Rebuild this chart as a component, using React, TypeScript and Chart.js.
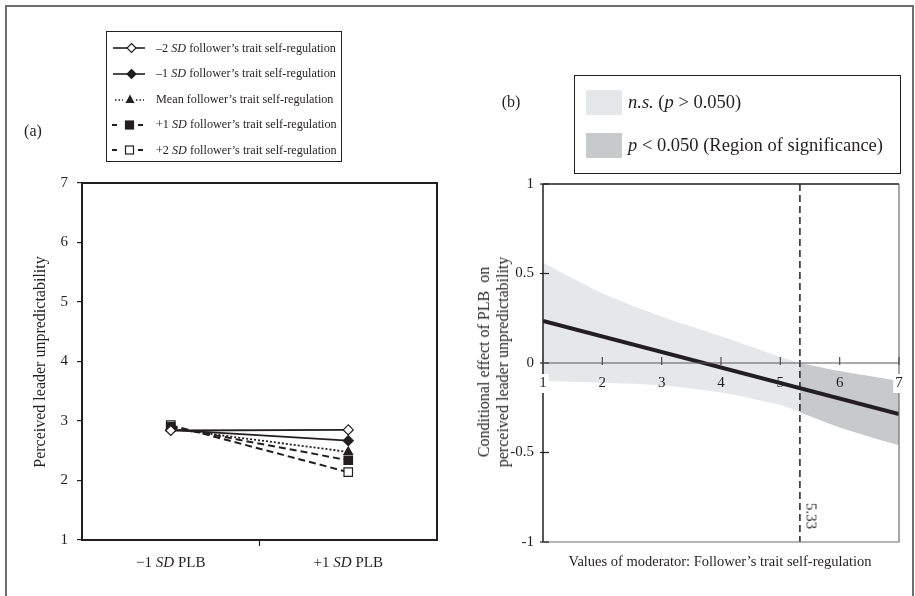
import React, { useEffect, useRef } from 'react';
import { Chart, registerables } from 'chart.js';
Chart.register(...registerables);

const SERIF = '"Liberation Serif", "Times New Roman", Times, serif';
const INK = '#231f20';

// ---------- Panel (a) data ----------
const plbCategories = ['−1 *SD* PLB', '+1 *SD* PLB'];
const seriesLabels = [
  '–2 *SD* follower’s trait self-regulation',
  '–1 *SD* follower’s trait self-regulation',
  'Mean follower’s trait self-regulation',
  '+1 *SD* follower’s trait self-regulation',
  '+2 *SD* follower’s trait self-regulation',
];
const minus2SD = [2.84, 2.85];
const minus1SD = [2.85, 2.67];
const meanSD = [2.87, 2.48];
const plus1SD = [2.9, 2.34];
const plus2SD = [2.93, 2.14];
const yTicksA = [1, 2, 3, 4, 5, 6, 7];

// ---------- Panel (b) data ----------
const moderatorValues = [1, 2, 3, 4, 5, 5.33, 6, 7];
const ciUpper = [0.56, 0.39, 0.26, 0.15, 0.035, 0.0, -0.045, -0.1];
const ciLower = [-0.1, -0.11, -0.125, -0.165, -0.235, -0.275, -0.36, -0.46];
const effectX = [1, 7];
const effectY = [0.235, -0.285];
const jnValue = 5.33;
const xTicksB = [1, 2, 3, 4, 5, 6, 7];
const xTickLabelsB = ['1', '2', '3', '4', '5', '6', '7'];
const yTicksB = [-1, -0.5, 0, 0.5, 1];
const yTickLabelsB = ['-1', '-0.5', '0', '0.5', '1'];
const bandLegend = ['*n.s.* (*p* > 0.050)', '*p* < 0.050 (Region of significance)'];
const bandColors = ['#e6e7e8', '#c8c9cb'];

const TICK_FONT = 15;

function rich(text: string) {
  return text.split('*').map((p, i) =>
    i % 2 ? <i key={i}>{p}</i> : <span key={i}>{p}</span>
  );
}

function drawRich(ctx: CanvasRenderingContext2D, text: string, cx: number, cy: number, size: number) {
  const parts = text.split('*');
  const fonts = parts.map((_, i) => `${i % 2 ? 'italic ' : ''}${size}px ${SERIF}`);
  let total = 0;
  const widths = parts.map((p, i) => {
    ctx.font = fonts[i];
    const w = ctx.measureText(p).width;
    total += w;
    return w;
  });
  let x = cx - total / 2;
  ctx.textAlign = 'left';
  ctx.textBaseline = 'middle';
  ctx.fillStyle = INK;
  parts.forEach((p, i) => {
    ctx.font = fonts[i];
    ctx.fillText(p, x, cy);
    x += widths[i];
  });
}

const panelAPlugin = {
  id: 'panelA',
  beforeDatasetsDraw(chart: any) {
    const { ctx, chartArea: a } = chart;
    ctx.save();
    ctx.strokeStyle = INK;
    ctx.lineWidth = 2;
    ctx.beginPath();
    ctx.moveTo(a.left, a.top);
    ctx.lineTo(a.right, a.top);
    ctx.lineTo(a.right, a.bottom);
    ctx.stroke();
    ctx.restore();
  },
  afterDraw(chart: any) {
    const { ctx, chartArea: a, scales } = chart;
    const xs = scales.x;
    ctx.save();
    ctx.strokeStyle = INK;
    ctx.lineWidth = 1.2;
    const mid = xs.getPixelForValue(0.5);
    ctx.beginPath();
    ctx.moveTo(mid, a.bottom);
    ctx.lineTo(mid, a.bottom + 6);
    ctx.stroke();
    plbCategories.forEach((c, i) => {
      drawRich(ctx, c, xs.getPixelForValue(i), a.bottom + 23, 15);
    });
    ctx.restore();
  },
};

// Fill each confidence band between its upper and lower edge datasets,
// using the point positions (and curve control points) computed by Chart.js.
function tracePath(ctx: CanvasRenderingContext2D, pts: any[], reverse: boolean, move: boolean) {
  const list = reverse ? [...pts].reverse() : pts;
  list.forEach((p: any, i: number) => {
    if (i === 0) {
      if (move) ctx.moveTo(p.x, p.y);
      else ctx.lineTo(p.x, p.y);
      return;
    }
    const prev = list[i - 1];
    const c1x = reverse ? prev.cp1x : prev.cp2x;
    const c1y = reverse ? prev.cp1y : prev.cp2y;
    const c2x = reverse ? p.cp2x : p.cp1x;
    const c2y = reverse ? p.cp2y : p.cp1y;
    if ([c1x, c1y, c2x, c2y].every((v) => typeof v === 'number' && isFinite(v))) {
      ctx.bezierCurveTo(c1x, c1y, c2x, c2y, p.x, p.y);
    } else {
      ctx.lineTo(p.x, p.y);
    }
  });
}

const bandPlugin = {
  id: 'bands',
  beforeDatasetsDraw(chart: any) {
    const { ctx, chartArea: a } = chart;
    ctx.save();
    ctx.beginPath();
    ctx.rect(a.left, a.top, a.right - a.left, a.bottom - a.top);
    ctx.clip();
    chart.data.datasets.forEach((ds: any, i: number) => {
      if (ds.bandRole !== 'upper') return;
      const up = chart.getDatasetMeta(i).data;
      const lo = chart.getDatasetMeta(i + 1).data;
      ctx.beginPath();
      tracePath(ctx, up, false, true);
      tracePath(ctx, lo, true, false);
      ctx.closePath();
      ctx.fillStyle = ds.bandColor;
      ctx.fill();
    });
    ctx.restore();
  },
};

const panelBPlugin = {
  id: 'panelB',
  afterDatasetsDraw(chart: any) {
    const { ctx, chartArea: a, scales } = chart;
    const xs = scales.x;
    const ys = scales.y;
    ctx.save();
    ctx.strokeStyle = INK;
    ctx.lineWidth = 1.5;
    ctx.beginPath();
    ctx.moveTo(a.left, a.top);
    ctx.lineTo(a.right, a.top);
    ctx.stroke();
    ctx.beginPath();
    ctx.moveTo(a.left, a.top);
    ctx.lineTo(a.left, a.bottom);
    ctx.stroke();
    ctx.strokeStyle = '#6d6e71';
    ctx.lineWidth = 1.2;
    ctx.beginPath();
    ctx.moveTo(a.right, a.top);
    ctx.lineTo(a.right, a.bottom);
    ctx.lineTo(a.left, a.bottom);
    ctx.stroke();
    ctx.strokeStyle = INK;
    ctx.lineWidth = 1.2;
    yTicksB.forEach((v) => {
      const y = ys.getPixelForValue(v);
      ctx.beginPath();
      ctx.moveTo(a.left - 3, y);
      ctx.lineTo(a.left + 6, y);
      ctx.stroke();
    });
    const y0 = ys.getPixelForValue(0);
    ctx.strokeStyle = '#58595b';
    ctx.lineWidth = 1.2;
    ctx.beginPath();
    ctx.moveTo(a.left, y0);
    ctx.lineTo(a.right, y0);
    ctx.stroke();
    ctx.strokeStyle = '#4d4d4f';
    xTicksB.forEach((v) => {
      const x = xs.getPixelForValue(v);
      ctx.beginPath();
      ctx.moveTo(x, y0 - 6);
      ctx.lineTo(x, y0 + 2);
      ctx.stroke();
    });
    ctx.font = `${TICK_FONT}px ${SERIF}`;
    ctx.textAlign = 'center';
    ctx.textBaseline = 'middle';
    const ly = y0 + 20;
    xTicksB.forEach((v, i) => {
      const x = xs.getPixelForValue(v);
      if (i === 0 || i === xTicksB.length - 1) {
        const w = ctx.measureText(xTickLabelsB[i]).width;
        ctx.fillStyle = '#ffffff';
        ctx.fillRect(x - w / 2 - 2, ly - 9, w + 4, 19);
      }
      ctx.fillStyle = INK;
      ctx.fillText(xTickLabelsB[i], x, ly);
    });
    ctx.restore();
  },
};

function PanelA() {
  const ref = useRef<HTMLCanvasElement>(null);
  useEffect(() => {
    const tickFont = { family: SERIF, size: TICK_FONT };
    const base = { borderColor: INK, pointBorderColor: INK, pointBorderWidth: 1.2, pointRadius: 5, tension: 0 };
    const chart = new Chart(ref.current!, {
      type: 'line',
      data: {
        labels: plbCategories.map((c) => c.replace(/\*/g, '')),
        datasets: [
          { ...base, label: seriesLabels[0], data: minus2SD, borderWidth: 1.8, pointStyle: 'rectRot', pointBackgroundColor: '#fff' },
          { ...base, label: seriesLabels[1], data: minus1SD, borderWidth: 1.8, pointStyle: 'rectRot', pointBackgroundColor: INK },
          { ...base, label: seriesLabels[2], data: meanSD, borderWidth: 1.8, borderDash: [2, 2], pointStyle: 'triangle', pointBackgroundColor: INK },
          { ...base, label: seriesLabels[3], data: plus1SD, borderWidth: 2, borderDash: [7, 4], pointStyle: 'rect', pointRadius: 6, pointBackgroundColor: INK },
          { ...base, label: seriesLabels[4], data: plus2SD, borderWidth: 2, borderDash: [7, 4], pointStyle: 'rect', pointRadius: 6, pointBackgroundColor: '#fff' },
        ] as any,
      },
      options: {
        animation: false,
        responsive: false,
        maintainAspectRatio: false,
        layout: { padding: { top: 183, right: 20, left: 0, bottom: 0 } },
        plugins: { legend: { display: false }, tooltip: { enabled: false } },
        scales: {
          x: {
            type: 'category',
            offset: true,
            grid: { display: true, drawOnChartArea: false, drawTicks: false },
            border: { display: true, color: INK, width: 2 },
            ticks: { display: false },
            afterFit: (s: any) => { s.height = 56; },
          },
          y: {
            min: 1,
            max: 7,
            afterBuildTicks: (s: any) => { s.ticks = yTicksA.map((v) => ({ value: v })); },
            ticks: { font: tickFont, color: INK, padding: 9, callback: (v: any) => String(v) },
            grid: { drawOnChartArea: false, drawTicks: true, tickLength: 5, color: INK, lineWidth: 1.2 },
            border: { display: true, color: INK, width: 2 },
            afterFit: (s: any) => { s.width = 82; },
          },
        } as any,
      },
      plugins: [panelAPlugin],
    });
    return () => chart.destroy();
  }, []);
  return <canvas ref={ref} width={457} height={596} style={{ position: 'absolute', left: 0, top: 0 }} />;
}

function PanelB() {
  const ref = useRef<HTMLCanvasElement>(null);
  useEffect(() => {
    const tickFont = { family: SERIF, size: TICK_FONT };
    const pts = (xs: number[], ys: number[]) => xs.map((x, i) => ({ x, y: ys[i] }));
    const lightIdx = moderatorValues.map((v, i) => (v <= jnValue ? i : -1)).filter((i) => i >= 0);
    const darkIdx = moderatorValues.map((v, i) => (v >= jnValue ? i : -1)).filter((i) => i >= 0);
    const sub = (arr: number[], idx: number[]) => idx.map((i) => arr[i]);
    const edge = { borderWidth: 1, borderColor: 'rgba(0,0,0,0)', pointRadius: 0, tension: 0.3, fill: false };
    const band = (idx: number[], color: string) => [
      { ...edge, bandRole: 'upper', bandColor: color, data: pts(sub(moderatorValues, idx), sub(ciUpper, idx)) },
      { ...edge, bandRole: 'lower', data: pts(sub(moderatorValues, idx), sub(ciLower, idx)) },
    ];
    const chart = new Chart(ref.current!, {
      type: 'line',
      data: {
        datasets: [
          { data: pts(effectX, effectY), borderColor: INK, borderWidth: 4, pointRadius: 0, fill: false },
          { data: [{ x: jnValue, y: 1 }, { x: jnValue, y: -1 }], borderColor: INK, borderWidth: 1.5, borderDash: [7, 4], pointRadius: 0, fill: false },
          ...band(lightIdx, bandColors[0]),
          ...band(darkIdx, bandColors[1]),
        ] as any,
      },
      options: {
        animation: false,
        responsive: false,
        maintainAspectRatio: false,
        layout: { padding: { top: 184, right: 16, left: 0, bottom: 54 } },
        plugins: { legend: { display: false }, tooltip: { enabled: false } },
        scales: {
          x: {
            type: 'linear',
            display: false,
            min: 1,
            max: 7,
          },
          y: {
            type: 'linear',
            min: -1,
            max: 1,
            afterBuildTicks: (s: any) => { s.ticks = yTicksB.map((v) => ({ value: v })); },
            ticks: {
              font: tickFont,
              color: INK,
              padding: 9,
              callback: (v: any) => yTickLabelsB[yTicksB.indexOf(Number(v))] ?? String(v),
            },
            grid: { display: true, drawOnChartArea: false, drawTicks: false },
            border: { display: false },
            afterFit: (s: any) => { s.width = 86; },
          },
        } as any,
      },
      plugins: [bandPlugin, panelBPlugin],
    });
    return () => chart.destroy();
  }, []);
  return <canvas ref={ref} width={458} height={596} style={{ position: 'absolute', left: 457, top: 0 }} />;
}

function Marker({ kind }: { kind: number }) {
  const c = INK;
  if (kind === 0 || kind === 1) {
    return (
      <svg width={40} height={14}>
        <line x1={3} y1={7} x2={35} y2={7} stroke={c} strokeWidth={1.6} />
        <polygon points="21.5,2.5 26,7 21.5,11.5 17,7" fill={kind === 0 ? '#fff' : c} stroke={c} strokeWidth={1.2} />
      </svg>
    );
  }
  if (kind === 2) {
    return (
      <svg width={40} height={14}>
        <line x1={5} y1={8} x2={13} y2={8} stroke={c} strokeWidth={1.4} strokeDasharray="1.5 2" />
        <polygon points="20,2.5 24.5,11 15.5,11" fill={c} />
        <line x1={26} y1={8} x2={34} y2={8} stroke={c} strokeWidth={1.4} strokeDasharray="1.5 2" />
      </svg>
    );
  }
  return (
    <svg width={40} height={14}>
      <line x1={2} y1={7} x2={7} y2={7} stroke={c} strokeWidth={2} />
      <rect x={15.5} y={3} width={8} height={8} fill={kind === 3 ? c : '#fff'} stroke={c} strokeWidth={1.2} />
      <line x1={28} y1={7} x2={33} y2={7} stroke={c} strokeWidth={2} />
    </svg>
  );
}

const abs = (extra: React.CSSProperties): React.CSSProperties => ({ position: 'absolute', whiteSpace: 'nowrap', ...extra });

export default function App() {
  return (
    <div style={{ position: 'relative', width: 915, height: 596, overflow: 'hidden', background: '#fff', fontFamily: SERIF, color: INK }}>
      <style>{'body{margin:0}'}</style>
      <div style={abs({ left: 5, top: 5, width: 905, height: 620, border: '2px solid #6d6e71' })} />
      <PanelA />
      <PanelB />
      <div style={abs({ left: 33, top: 131, transform: 'translate(-50%,-50%)', fontSize: 16 })}>(a)</div>
      <div style={abs({ left: 511, top: 102, transform: 'translate(-50%,-50%)', fontSize: 16 })}>(b)</div>
      <div style={abs({ left: 106, top: 31, width: 236, height: 131, border: '1.5px solid ' + INK, boxSizing: 'border-box' })}>
        {seriesLabels.map((s, i) => (
          <div key={i} style={abs({ left: 3, top: 8 + i * 25.6, height: 16, display: 'flex', alignItems: 'center', fontSize: 12.2 })}>
            <Marker kind={i} />
            <span style={{ marginLeft: 6 }}>{rich(s)}</span>
          </div>
        ))}
      </div>
      <div style={abs({ left: 40, top: 362, transform: 'translate(-50%,-50%) rotate(-90deg)', fontSize: 16 })}>
        Perceived leader unpredictability
      </div>
      <div style={abs({ left: 574, top: 75, width: 327, height: 99, border: '1.5px solid ' + INK, boxSizing: 'border-box' })}>
        {bandLegend.map((s, i) => (
          <div key={i} style={abs({ left: 11, top: i === 0 ? 14 : 57, height: 25, display: 'flex', alignItems: 'center', fontSize: 18.5 })}>
            <div style={{ width: 36, height: 25, background: bandColors[i] }} />
            <span style={{ marginLeft: 6 }}>{rich(s)}</span>
          </div>
        ))}
      </div>
      <div style={abs({ left: 493, top: 362, transform: 'translate(-50%,-50%) rotate(-90deg)', fontSize: 16, textAlign: 'center', lineHeight: '19px' })}>
        Conditional effect of PLB&nbsp; on
        <br />
        perceived leader unpredictability
      </div>
      <div style={abs({ left: 720, top: 561, transform: 'translate(-50%,-50%)', fontSize: 14.5 })}>
        Values of moderator: Follower’s trait self-regulation
      </div>
      <div style={abs({ left: 811, top: 516, transform: 'translate(-50%,-50%) rotate(90deg)', fontSize: 15 })}>5.33</div>
    </div>
  );
}
